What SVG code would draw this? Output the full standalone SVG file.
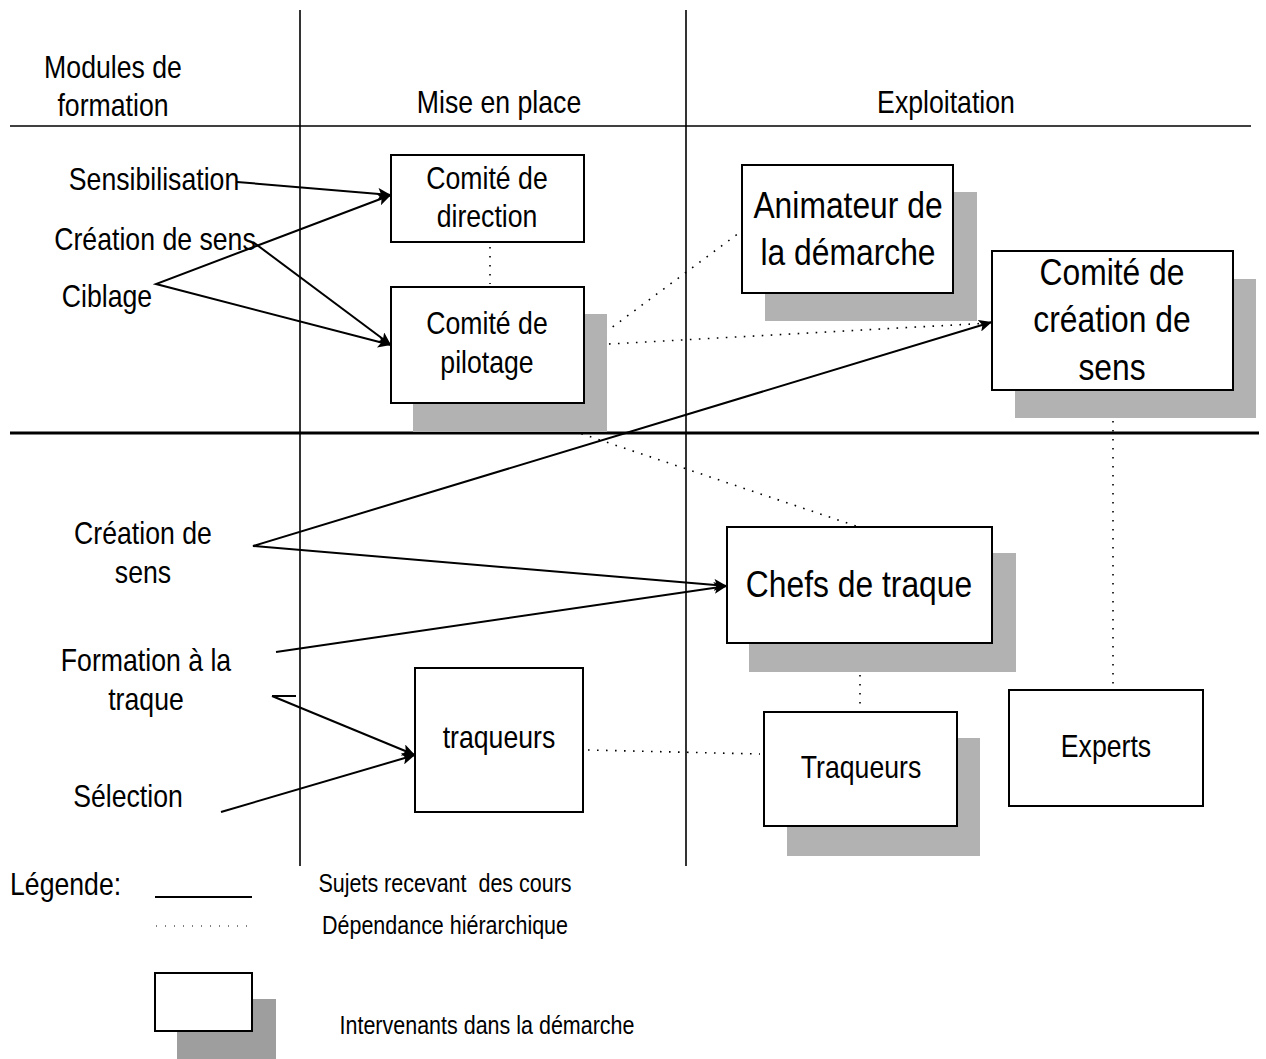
<svg xmlns="http://www.w3.org/2000/svg" width="1266" height="1059" viewBox="0 0 1266 1059">
<style>
text{font-family:"Liberation Sans",Arial,sans-serif;fill:#000;text-anchor:middle}
.n{font-size:31px}
.l{font-size:37px}
.s{font-size:25px}
.box{fill:#fff;stroke:#000;stroke-width:2}
.sh{fill:#b2b2b2}
.grid{stroke:#000;stroke-width:1.6;fill:none}
.c{stroke:#000;stroke-width:2;fill:none}
.d{stroke:#000;stroke-width:1.6;fill:none;stroke-dasharray:1.6 7.4}
</style>
<defs>
<marker id="ah" markerUnits="userSpaceOnUse" markerWidth="14" markerHeight="12" refX="13" refY="6" orient="auto-start-reverse">
<path d="M0,0 L13,6 L0,12 L3,6 Z" fill="#000"/>
</marker>
</defs>
<rect width="1266" height="1059" fill="#fff"/>
<g id="grid">
<line class="grid" x1="300" y1="10" x2="300" y2="866"/>
<line class="grid" x1="686" y1="10" x2="686" y2="866"/>
<line class="grid" x1="10" y1="126" x2="1251" y2="126"/>
<line x1="10" y1="433" x2="1259" y2="433" stroke="#000" stroke-width="3"/>
</g>
<g id="headers">
<text class="n" transform="translate(113,78) scale(0.86,1)">Modules de</text>
<text class="n" transform="translate(113,116) scale(0.86,1)">formation</text>
<text class="n" transform="translate(499,113) scale(0.86,1)">Mise en place</text>
<text class="n" transform="translate(946,113) scale(0.86,1)">Exploitation</text>
</g>
<g id="labels">
<text class="n" transform="translate(154,190) scale(0.86,1)">Sensibilisation</text>
<text class="n" transform="translate(155,250) scale(0.86,1)">Création de sens</text>
<text class="n" transform="translate(107,307) scale(0.86,1)">Ciblage</text>
<text class="n" transform="translate(143,544) scale(0.86,1)">Création de</text>
<text class="n" transform="translate(143,583) scale(0.86,1)">sens</text>
<text class="n" transform="translate(146,671) scale(0.86,1)">Formation à la</text>
<text class="n" transform="translate(146,710) scale(0.86,1)">traque</text>
<text class="n" transform="translate(128,807) scale(0.86,1)">Sélection</text>
</g>
<g id="connectors">
<line class="c" x1="237" y1="182" x2="391" y2="195" marker-end="url(#ah)"/>
<polyline class="c" points="391,195 156,284 391,345" marker-start="url(#ah)" marker-end="url(#ah)"/>
<line class="c" x1="253" y1="242" x2="391" y2="345" marker-end="url(#ah)"/>
<polyline class="c" points="992,322 253,546 727,586" marker-start="url(#ah)" marker-end="url(#ah)"/>
<line class="c" x1="276" y1="652" x2="727" y2="586" marker-end="url(#ah)"/>
<line class="c" x1="272" y1="696" x2="296" y2="696"/>
<line class="c" x1="272" y1="696" x2="415" y2="755" marker-end="url(#ah)"/>
<line class="c" x1="221" y1="812" x2="415" y2="755" marker-end="url(#ah)"/>
<line class="d" x1="490" y1="247" x2="490" y2="284"/>
<line class="d" x1="591" y1="343" x2="743" y2="230"/>
<line class="d" x1="591" y1="345" x2="990" y2="323"/>
<line class="d" x1="496" y1="405" x2="856" y2="526"/>
<line class="d" x1="860" y1="648" x2="860" y2="706"/>
<line class="d" x1="1113" y1="394" x2="1113" y2="686"/>
<line class="d" x1="588" y1="750" x2="760" y2="754"/>
</g>
<g id="comite-direction">
<rect class="box" x="391" y="155" width="193" height="87"/>
<text class="n" transform="translate(487,189) scale(0.86,1)">Comité de</text>
<text class="n" transform="translate(487,227) scale(0.86,1)">direction</text>
</g>
<g id="comite-pilotage">
<rect class="sh" x="413" y="314" width="194" height="118"/>
<rect class="box" x="391" y="287" width="193" height="116"/>
<text class="n" transform="translate(487,334) scale(0.86,1)">Comité de</text>
<text class="n" transform="translate(487,373) scale(0.86,1)">pilotage</text>
</g>
<g id="animateur">
<rect class="sh" x="765" y="192" width="212" height="129"/>
<rect class="box" x="742" y="165" width="211" height="128"/>
<text class="l" transform="translate(848,218) scale(0.86,1)">Animateur de</text>
<text class="l" transform="translate(848,265) scale(0.86,1)">la démarche</text>
</g>
<g id="comite-creation">
<rect class="sh" x="1015" y="279" width="241" height="139"/>
<rect class="box" x="992" y="251" width="241" height="139"/>
<text class="l" transform="translate(1112,285) scale(0.86,1)">Comité de</text>
<text class="l" transform="translate(1112,332) scale(0.86,1)">création de</text>
<text class="l" transform="translate(1112,380) scale(0.86,1)">sens</text>
</g>
<g id="chefs">
<rect class="sh" x="749" y="553" width="267" height="119"/>
<rect class="box" x="727" y="527" width="265" height="116"/>
<text class="l" transform="translate(859,597) scale(0.86,1)">Chefs de traque</text>
</g>
<g id="traqueurs-mise">
<rect class="box" x="415" y="668" width="168" height="144"/>
<text class="n" transform="translate(499,748) scale(0.86,1)">traqueurs</text>
</g>
<g id="traqueurs-exploit">
<rect class="sh" x="787" y="738" width="193" height="118"/>
<rect class="box" x="764" y="712" width="193" height="114"/>
<text class="n" transform="translate(861,778) scale(0.86,1)">Traqueurs</text>
</g>
<g id="experts">
<rect class="box" x="1009" y="690" width="194" height="116"/>
<text class="n" transform="translate(1106,757) scale(0.86,1)">Experts</text>
</g>
<g id="legend">
<text class="n" transform="translate(10,895) scale(0.86,1)" style="text-anchor:start">Légende:</text>
<line x1="155" y1="897" x2="252" y2="897" stroke="#000" stroke-width="2"/>
<line x1="156" y1="926" x2="252" y2="926" stroke="#000" stroke-width="1" stroke-dasharray="1 8"/>
<text class="s" transform="translate(445,892) scale(0.86,1)">Sujets recevant&#160; des cours</text>
<text class="s" transform="translate(445,934) scale(0.86,1)">Dépendance hiérarchique</text>
<rect x="177" y="999" width="99" height="60" fill="#9e9e9e"/>
<rect class="box" x="155" y="973" width="97" height="58"/>
<text class="s" transform="translate(487,1034) scale(0.86,1)">Intervenants dans la démarche</text>
</g>
</svg>
